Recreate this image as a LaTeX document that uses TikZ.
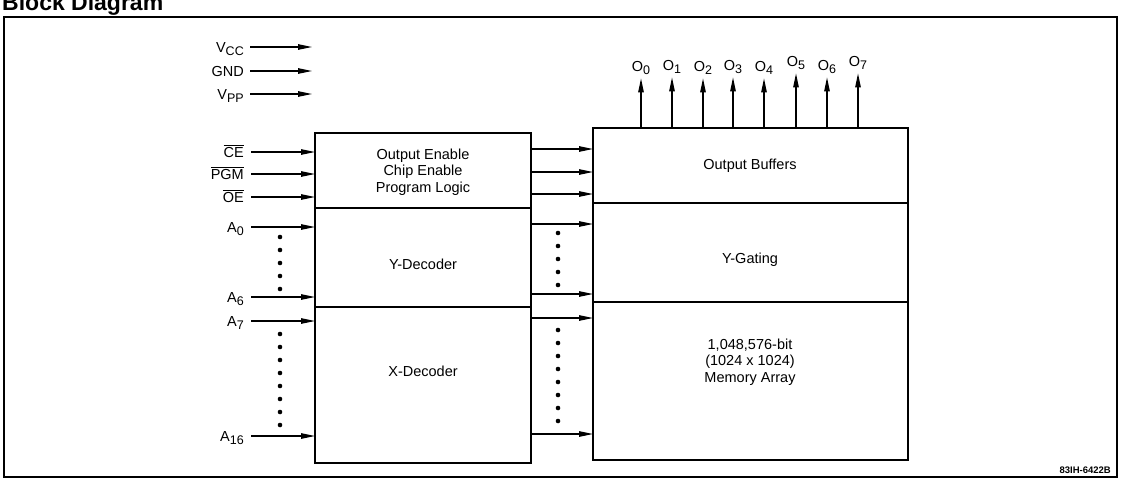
\documentclass[tikz,border=0pt]{standalone}
\usepackage{fontspec}
\setmainfont{Liberation Sans}
\usetikzlibrary{arrows.meta,positioning}

\newcommand{\lowsub}[1]{\raisebox{-0.45ex}{\fontsize{12.5}{12.5}\selectfont #1}}
\newcommand{\barsig}[1]{\ensuremath{\overline{\mbox{#1}}}}

\begin{document}
\begin{tikzpicture}[x=1pt,y=-1pt,
  blk/.style={draw,line width=1.8pt,outer sep=0pt,inner sep=0pt},
  txt/.style={font=\fontsize{14.5}{16.5}\selectfont,align=center},
  lbl/.style={font=\fontsize{14.5}{16}\selectfont,anchor=east,inner sep=0pt,text height=10.4pt,text depth=0pt},
  olbl/.style={font=\fontsize{14.5}{16}\selectfont,inner sep=0pt,text height=10.4pt,text depth=0pt},
  sig/.style={line width=1.1pt,-{Triangle[length=14pt,width=5.5pt]}}]
  \useasboundingbox (0,0) rectangle (1121,488);

  % Frame and title
  \draw[line width=1.3pt] (4,17) rectangle (1117,477);
  \node[font=\fontsize{23}{23}\selectfont\bfseries,anchor=base west,inner sep=0pt] (title) at (2,10) {Block Diagram};
  \node[font=\fontsize{9.5}{9.5}\selectfont\bfseries,anchor=east,inner sep=0pt] (code) at (1111,470) {83IH-6422B};

  % Left block
  \node[blk,minimum width=216pt,minimum height=75pt,anchor=north west] (logic) at (315,133) {};
  \node[blk,minimum width=216pt,minimum height=99pt,anchor=north] (ydec) at (logic.south) {};
  \node[blk,minimum width=216pt,minimum height=156pt,anchor=north] (xdec) at (ydec.south) {};
  \node[txt] (logic-t) at (423,172) {Output Enable\\Chip Enable\\Program Logic};
  \node[txt] (ydec-t) at (423,264) {Y-Decoder};
  \node[txt] (xdec-t) at (423,371) {X-Decoder};

  % Right block
  \node[blk,minimum width=315pt,minimum height=75pt,anchor=north west] (obuf) at (593,128) {};
  \node[blk,minimum width=315pt,minimum height=99pt,anchor=north] (ygate) at (obuf.south) {};
  \node[blk,minimum width=315pt,minimum height=158pt,anchor=north] (mem) at (ygate.south) {};
  \node[txt] (obuf-t) at (750,166) {Output Buffers};
  \node[txt] (ygate-t) at (750,260) {Y-Gating};
  \node[txt] (mem-t) at (750,362) {1,048,576-bit\\(1024 x 1024)\\Memory Array};

  % Power pins
  \node[lbl] (vcc) at (244,47) {V\lowsub{CC}};
  \node[lbl] (gnd) at (244,71) {GND};
  \node[lbl] (vpp) at (244,94) {V\lowsub{PP}};
  \foreach \p in {vcc,gnd,vpp}
    \draw[sig] ([xshift=6pt]\p.east) -- ([xshift=-3pt]\p.east -| logic.west);

  % Inputs
  \node[lbl] (ce) at (244,152) {\barsig{CE}};
  \node[lbl] (pgm) at (244,174) {\barsig{PGM}};
  \node[lbl] (oe) at (244,197) {\barsig{OE}};
  \node[lbl] (a0) at (244,227) {A\lowsub{0}};
  \node[lbl] (a6) at (244,297) {A\lowsub{6}};
  \node[lbl] (a7) at (244,321) {A\lowsub{7}};
  \node[lbl] (a16) at (244,436) {A\lowsub{16}};
  \foreach \p in {ce,pgm,oe,a0,a6,a7,a16}
    \draw[sig] ([xshift=7pt]\p.east) -- (\p.east -| logic.west);
  \foreach \y in {237,250,...,289} \fill (280,\y) circle (2.3pt);
  \foreach \y in {334,347,...,425} \fill (280,\y) circle (2.3pt);

  % Between blocks
  \foreach \y in {149,172,194,224,294,318,434}
    \draw[sig] (logic.east |- 0,\y) -- (obuf.west |- 0,\y);
  \foreach \y in {233,246,...,285} \fill (558,\y) circle (2.3pt);
  \foreach \y in {330,343,...,421} \fill (558,\y) circle (2.3pt);

  % Outputs
  \foreach \i/\x/\y in {0/641/66,1/672/65,2/703/66,3/733/65,4/764/66,5/796/61,6/827/65,7/858/61} {
    \node[olbl] (o\i) at (\x,\y) {O\lowsub{\i}};
    \draw[sig,shorten >=7pt] (obuf.north -| o\i.south) -- (o\i.south);
  }
\end{tikzpicture}
\end{document}
